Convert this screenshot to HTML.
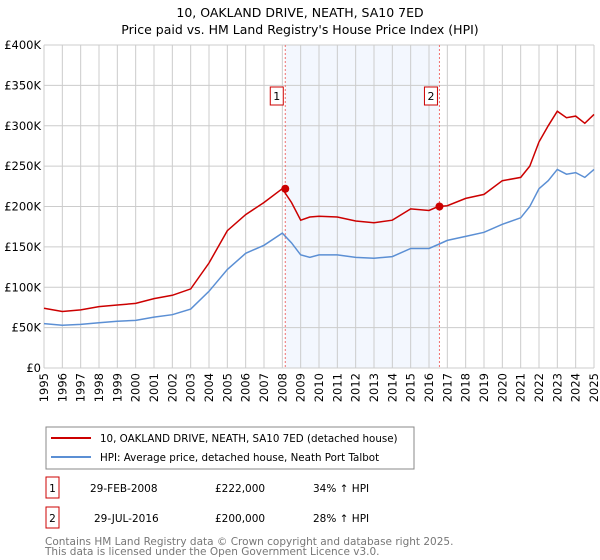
<!DOCTYPE html>
<html><head><meta charset="utf-8"><style>
body{margin:0;background:#fff;font-family:"DejaVu Sans","Liberation Sans",sans-serif;}
#wrap{position:relative;width:600px;height:560px;overflow:hidden;}
</style></head><body>
<div id="wrap">
<svg id="chart" width="600" height="560" font-family="DejaVu Sans, Liberation Sans, sans-serif"></svg>
</div>
<script>
const years=[1995,1996,1997,1998,1999,2000,2001,2002,2003,2004,2005,2006,2007,2008,2008.5,2009,2009.5,2010,2011,2012,2013,2014,2015,2016,2016.5,2017,2018,2019,2020,2021,2021.5,2022,2022.5,2023,2023.5,2024,2024.5,2025];
const hpiValues=[55,53,54,56,58,59,63,66,73,95,122,142,152,167,155,140,137,140,140,137,136,138,148,148,153,158,163,168,178,186,200,222,232,246,240,242,236,246];
const priceValues=[74,70,72,76,78,80,86,90,98,130,170,190,205,222,205,183,187,188,187,182,180,183,197,195,200,201,210,215,232,236,250,280,300,318,310,312,303,314];
const yTicks=[0,50,100,150,200,250,300,350,400];
const yTickLabels=["£0","£50K","£100K","£150K","£200K","£250K","£300K","£350K","£400K"];
const xTicks=[1995,1996,1997,1998,1999,2000,2001,2002,2003,2004,2005,2006,2007,2008,2009,2010,2011,2012,2013,2014,2015,2016,2017,2018,2019,2020,2021,2022,2023,2024,2025];
const sales=[{t:2008.16,v:222,label:"1"},{t:2016.57,v:200,label:"2"}];
const X0=44,X1=594,Y0=368,Y1=45;
const xs=t=>X0+(t-1995)/30*(X1-X0);
const ys=v=>Y0-v/400*(Y0-Y1);
const svg=document.getElementById('chart');
const NS='http://www.w3.org/2000/svg';
function mk(tag,attrs,parent){const e=document.createElementNS(NS,tag);for(const k in attrs)e.setAttribute(k,attrs[k]);(parent||svg).appendChild(e);return e;}
function txt(s,attrs){const e=mk('text',attrs);e.textContent=s;return e;}
let t=txt("10, OAKLAND DRIVE, NEATH, SA10 7ED",{x:300,y:17,'text-anchor':'middle','font-size':12.5});

t=txt("Price paid vs. HM Land Registry's House Price Index (HPI)",{x:300,y:34,'text-anchor':'middle','font-size':12.5});

let sh=mk('rect',{x:xs(sales[0].t),y:Y1,width:xs(sales[1].t)-xs(sales[0].t),height:Y0-Y1,fill:'#eef3fd',opacity:0.7});

xTicks.forEach(y=>{const l=mk('line',{x1:xs(y),x2:xs(y),y1:Y1,y2:Y0,stroke:'#ccc','stroke-width':1});

const tx=txt(String(y),{x:0,y:0,'font-size':11.5,'text-anchor':'end',transform:`translate(${xs(y)+4},${Y0+5}) rotate(-90)`});
});
yTicks.forEach((v,i)=>{const l=mk('line',{x1:X0,x2:X1,y1:ys(v),y2:ys(v),stroke:'#ccc','stroke-width':1});

const tx=txt(yTickLabels[i],{x:X0-3,y:ys(v)+4,'font-size':11.5,'text-anchor':'end'});
});
sales.forEach(s=>{const l=mk('line',{x1:xs(s.t),x2:xs(s.t),y1:Y1,y2:Y0,stroke:'#f07070','stroke-width':1,'stroke-dasharray':'2,2'});

const r=mk('rect',{x:xs(s.t)-15,y:87,width:13,height:18,fill:'#fff',stroke:'#c00'});

const tx=txt(s.label,{x:xs(s.t)-8.5,y:100,'font-size':11,'text-anchor':'middle'});
});
function line(vals,color,name){const d=years.map((y,i)=>(i?'L':'M')+xs(y).toFixed(1)+','+ys(vals[i]).toFixed(1)).join('');
const p=mk('path',{d:d,fill:'none',stroke:color,'stroke-width':1.5});}
line(hpiValues,'#5b8fd4','hpi-line');
line(priceValues,'#cc0000','price-line');
sales.forEach(s=>{const c=mk('circle',{cx:xs(s.t),cy:ys(s.v),r:4,fill:'#cc0000'});});
let lg=mk('rect',{x:46,y:427,width:368,height:42,fill:'#fff',stroke:'#888'});
let ll=mk('line',{x1:51,x2:91,y1:438,y2:438,stroke:'#cc0000','stroke-width':2});
t=txt("10, OAKLAND DRIVE, NEATH, SA10 7ED (detached house)",{x:100,y:442,'font-size':10.3});
ll=mk('line',{x1:51,x2:91,y1:457,y2:457,stroke:'#5b8fd4','stroke-width':2});
t=txt("HPI: Average price, detached house, Neath Port Talbot",{x:100,y:461,'font-size':10.3});
const rows=[["1","29-FEB-2008","£222,000","34% ↑ HPI",477],["2","29-JUL-2016","£200,000","28% ↑ HPI",507]];
rows.forEach(r=>{const b=mk('rect',{x:46,y:r[4],width:13,height:21,fill:'#fff',stroke:'#c00'});
let a=txt(r[0],{x:52.5,y:r[4]+15,'font-size':10.5,'text-anchor':'middle'});
a=txt(r[1],{x:r[0]=="1"?90:94,y:r[4]+15,'font-size':10.5});
a=txt(r[2],{x:215,y:r[4]+15,'font-size':10.5});
a=txt(r[3],{x:313,y:r[4]+15,'font-size':10.5});});
t=txt("Contains HM Land Registry data © Crown copyright and database right 2025.",{x:45,y:545,'font-size':10.5,fill:'#777'});
t=txt("This data is licensed under the Open Government Licence v3.0.",{x:45,y:555,'font-size':10.5,fill:'#777'});
</script>
</body></html>
